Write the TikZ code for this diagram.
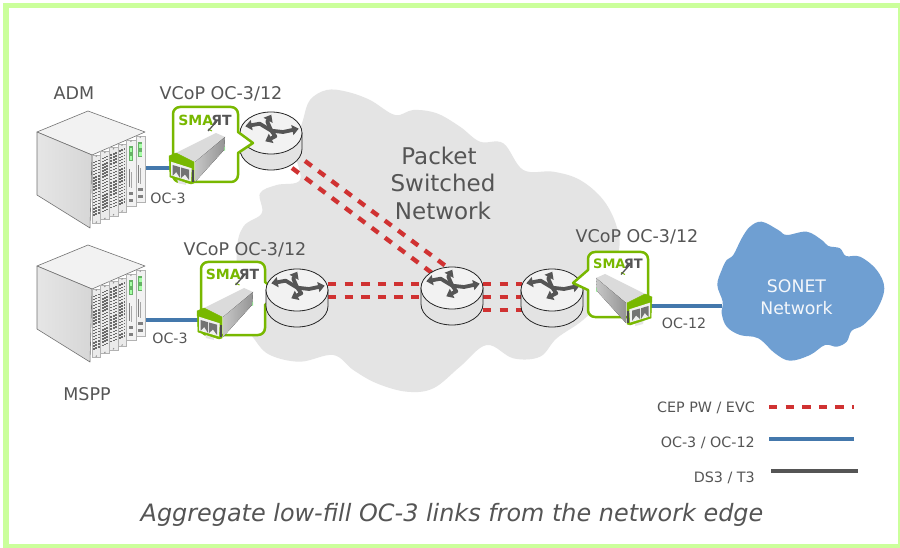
\documentclass[tikz,border=0pt]{standalone}
\usepackage{fontspec}
\setmainfont{DejaVu Sans}
\usetikzlibrary{arrows.meta,calc}
\definecolor{framegreen}{HTML}{CBFF9B}
\definecolor{cloudgray}{HTML}{E4E4E4}
\definecolor{sonetblue}{HTML}{6F9FD2}
\definecolor{cepred}{HTML}{D03232}
\definecolor{ocblue}{HTML}{4478AC}
\definecolor{dsgray}{HTML}{555555}
\definecolor{inkgray}{HTML}{555555}
\definecolor{smartgreen}{HTML}{78B800}
\tikzset{
  lbl/.style={anchor=base,text=inkgray,inner sep=0pt,font=\fontsize{17.5}{19}\selectfont},
  smalllbl/.style={anchor=base,text=inkgray,inner sep=0pt,font=\fontsize{14.2}{16}\selectfont},
  leglbl/.style={anchor=base east,text=inkgray,inner sep=0pt,font=\fontsize{14.3}{16}\selectfont},
  biglbl/.style={anchor=base,text=inkgray,inner sep=0pt,font=\fontsize{23}{26}\selectfont},
  sonetlbl/.style={anchor=base,text=white!92!sonetblue,inner sep=0pt,font=\fontsize{17.3}{20}\selectfont},
  cep/.style={draw=cepred,line width=4.4pt,dash pattern=on 8.4pt off 8.2pt},
  ocline/.style={draw=ocblue,line width=4pt},
  dsline/.style={draw=dsgray,line width=4pt},
  smartbox/.style={draw=smartgreen,line width=2.5pt,fill=white,line join=round},
  routerarm/.style={draw=inkgray,line width=3.8pt,line join=round,-{Triangle[length=6.5pt,width=10pt]}},
  router/.pic={
    \path[draw=black!85,line width=.8pt,fill=black!11] (-31,0) -- (-31,16) .. controls (-31,27.6) and (-17,37) .. (0,37) .. controls (17,37) and (31,27.6) .. (31,16) -- (31,0) -- cycle;
    \path[draw=black!85,line width=.8pt,fill=black!5] (0,0) ellipse [x radius=31,y radius=21];
    \begin{scope}[shift={(.3,-2.3)}]
      \draw[routerarm] (0,0) -- (-11.6,-7) -- (-26,-4.4);
      \draw[routerarm] (0,0) -- (11.7,1.3) -- (27.4,-2);
      \draw[routerarm] (0,0) -- (4,5.6) -- (-6,10.6);
      \draw[routerarm] (0,0) -- (-4,-9) -- (0,-16);
    \end{scope}
  },
  chassis/.pic={
    \path[draw=black!55,line width=.6pt,fill=black!5,line join=round] (0,0) -- (57,21) -- (4,44) -- (-51,21) -- cycle;
    \path[draw=black!55,line width=.6pt,left color=black!10,right color=black!16,line join=round] (-51,21) -- (4,44) -- (2,117) -- (-51,84) -- cycle;
    \begin{scope}[shift={(4,44)},x={(1pt,.43pt)},y={(0pt,-1pt)}]
      \foreach \c in {0,1,2,3} {
        \begin{scope}[shift={({\c*8.6},0)}]
          \path[fill=black!8,draw=black!30,line width=.4pt] (0,0) rectangle (8.6,72);
          \fill[black!45] (4.3,3) circle (.8);
          \foreach \row in {0,...,17} \foreach \col in {0,1,2}
            \fill[black!58] ({1.1+\col*2.3},{7+\row*3.1}) rectangle ++(1.9,2.3);
          \fill[black!45] (4.3,69) circle (.8);
        \end{scope}
      }
      \foreach \c in {0,1} {
        \begin{scope}[shift={({34.4+\c*9.3},0)}]
          \path[fill=black!5,draw=black!30,line width=.4pt] (0,0) rectangle (9.3,70);
          \fill[black!45] (4.6,3) circle (.8);
          \fill[green!50!black!60] (2.6,7) rectangle (6.6,24);
          \fill[green!35!white] (3.4,9) rectangle (5.8,14);
          \fill[green!35!white] (3.4,17) rectangle (5.8,22);
          \fill[black!50] (2.6,30) rectangle (3.5,48);
          \fill[black!35] (4.7,34) rectangle (5.4,50);
          \fill[black!50] (2.6,53) rectangle (6.8,58);
          \fill[black!50] (2.6,60) rectangle (6.8,65);
        \end{scope}
      }
    \end{scope}
  },
  sfp/.pic={
    \fill[green!35!white] (50,-12) -- (56,-9) -- (56,-5) -- (50,-8) -- cycle;
    \fill[black!14] (7,-3) -- (47,-23) -- (56,-19) -- (26,6) -- cycle;
    \fill[left color=black!22,right color=black!42] (26,6) -- (56,-19) -- (55,-6) -- (26,26) -- cycle;
    \fill[black!10] (8,22) -- (16,24) -- (17,29) -- (9,27) -- cycle;
    \path[fill=smartgreen,draw=smartgreen,line width=.5pt,line join=round] (0,0) -- (7,-3) -- (25,6) -- (25,27) -- (22,28) -- (1,21) -- cycle;
    \fill[black!6] (2,5.7) -- (22.7,12.3) -- (22,25.5) -- (2,19.5) -- cycle;
    \fill[black!55] (3.5,9) -- (11,11.2) -- (11,22) -- (7.2,16) -- (3.5,20) -- cycle;
    \fill[black!55] (12,11.5) -- (20,13.7) -- (20,24) -- (16,18.5) -- (12,22) -- cycle;
    \fill[black!70] (23,14) rectangle (24.8,26);
  },
}
\newcommand{\smartlogo}[1]{%
  {\fontsize{#1}{#1}\selectfont\bfseries{\color{smartgreen}SMA}\kern-.12em{\color{inkgray}ЯT}}}
\begin{document}
\begin{tikzpicture}[x=1pt,y=-1pt]
\useasboundingbox (0,0) rectangle (900,548);
\fill[white] (0,0) rectangle (900,548);
\draw[framegreen,line width=5.5pt] (6,5.7) rectangle (900.5,546.3);

% packet cloud
\fill[cloudgray] plot[smooth cycle,tension=.6] coordinates {(326.7,90) (346.7,91.7) (370,100) (395,115) (413.3,110) (436.7,113.3) (460,126.7) (480,141.7) (503.3,143.3) (523.3,170) (553.3,171.7) (580,180) (603.3,200) (616.7,226.7) (618.3,253) (600,300) (583,320) (556.7,338.3) (540,356.7) (513.3,358.3) (486.7,345) (460,366.7) (433.3,388.3) (406.7,391.7) (376.7,383.3) (353.3,370) (333.3,355) (300,361.7) (270,355) (255,340) (240,313) (236.7,253.3) (243.3,226.7) (261.7,213.3) (260,193.3) (276.7,185) (300,180) (295,150) (303,120) (310,100)};
% sonet cloud
\fill[sonetblue] plot[smooth cycle,tension=.6] coordinates {(761.7,221.7) (778.3,230) (786.7,235) (806.7,231.7) (821.7,240) (828.3,246) (840,248.3) (846,256) (860,256.7) (876.7,270) (884.3,288.3) (876.7,310) (863.3,325) (851.7,330.7) (846.7,341.7) (836.7,346.7) (825,345) (810,355) (790,360.7) (775,353.3) (758.3,338.3) (740,335) (726.7,326.7) (721.7,313.3) (722.7,301.7) (717.3,285) (721.7,270) (726.7,260) (733.3,255) (741.7,238.3) (750,226.7)};

\node[biglbl] (pk1) at (439,165) {Packet};
\node[biglbl] (pk2) at (443,192) {Switched};
\node[biglbl] (pk3) at (443,220) {Network};
\node[sonetlbl] (so1) at (796.5,293) {SONET};
\node[sonetlbl] (so2) at (796.5,314) {Network};

% anchors
\coordinate (r1) at (271,133);
\coordinate (r2) at (297,290);
\coordinate (r3) at (452,288);
\coordinate (r4) at (552,290);
\coordinate (c1) at (88,111);
\coordinate (c2) at (88,245);
\coordinate (s1) at (169,156);
\coordinate (s2) at (197,311);
\coordinate (s3) at (652,297);
\coordinate (son) at (722,306);

% links
\draw[cep] ($(r1)+(34,28)$) -- ($(r3)+(-5,-21)$);
\draw[cep] ($(r1)+(21,35)$) -- ($(r3)+(-20,-15)$);
\draw[cep] ($(r2)+(31,-6)$) -- ($(r3)+(-30,-4)$);
\draw[cep] ($(r2)+(31,7)$) -- ($(r3)+(-30,9)$);
\draw[cep] ($(r3)+(31,-4)$) -- ($(r4)+(-30,-6)$);
\draw[cep] ($(r3)+(31,9)$) -- ($(r4)+(-30,7)$);
\draw[cep] ($(r3)+(31,22)$) -- ($(r4)+(-30,20)$);
\draw[ocline] ($(c1)+(57,57)$) -- ($(s1)+(2,12)$);
\draw[ocline] ($(c2)+(57,75)$) -- ($(s2)+(2,9)$);
\draw[ocline] ($(s3)+(-2,9)$) -- (son);

% box 2 lies under its router
\draw[smartbox,rounded corners=7] (201,300) -- (201,262) -- (265,262) [sharp corners] -- (265,282) -- (279,293) -- (265,305) [rounded corners=7] -- (265,335) -- (201,335) -- cycle;
\pic at (r1) {router};
\pic at (r2) {router};
\pic at (r3) {router};
\pic at (r4) {router};

\draw[smartbox,rounded corners=7] (173,144) -- (173,107) -- (238,107) [sharp corners] -- (238,132) -- (253,143) -- (238,153) [rounded corners=7] -- (238,182) -- (173,182) -- cycle;
\draw[smartbox,rounded corners=7] (648,280) -- (648,252) -- (588,252) [sharp corners] -- (588,270) -- (573,283) -- (588,290) [rounded corners=7] -- (588,317) -- (648,317) -- cycle;

\node[anchor=center,inner sep=0pt] (t1) at (205,120) {\smartlogo{14}};
\node[anchor=center,inner sep=0pt] (t2) at (232.5,274) {\smartlogo{14}};
\node[anchor=center,inner sep=0pt] (t3) at (618,263.5) {\smartlogo{13}};
\foreach \t in {t1,t2,t3} {
  \draw[smartgreen,line width=1pt] ($(\t)+(3,9)$) -- ($(\t)+(7,11)$);
  \draw[inkgray,line width=1.3pt] ($(\t)+(3,11)$) -- ($(\t)+(12,1)$);
}
\pic at (s1) {sfp};
\pic at (s2) {sfp};
\pic[xscale=-1] at (s3) {sfp};

\pic at (c1) {chassis};
\pic at (c2) {chassis};

% labels
\node[lbl] (adm) at (74,100) {ADM};
\node[lbl] (mspp) at (87,400) {MSPP};
\node[lbl] (v1) at (221,100) {VCoP OC-3/12};
\node[lbl] (v2) at (245,256) {VCoP OC-3/12};
\node[lbl] (v3) at (637,243) {VCoP OC-3/12};
\node[smalllbl] (o1) at (168,204) {OC-3};
\node[smalllbl] (o2) at (170,343) {OC-3};
\node[smalllbl] (o3) at (684,328) {OC-12};

% legend
\node[leglbl] (l1) at (755,412.7) {CEP PW / EVC};
\node[leglbl] (l2) at (755,447) {OC-3 / OC-12};
\node[leglbl] (l3) at (755,482.7) {DS3 / T3};
\coordinate (l1a) at (769,407); \coordinate (l1b) at (854,407);
\coordinate (l2a) at (769,439); \coordinate (l2b) at (854,439);
\coordinate (l3a) at (771,471); \coordinate (l3b) at (858,471);
\draw[cep] (l1a) -- (l1b);
\draw[ocline] (l2a) -- (l2b);
\draw[dsline] (l3a) -- (l3b);

\node[anchor=base,text=inkgray,inner sep=0pt,font=\fontsize{23.9}{26}\selectfont\itshape] (title) at (452,521.5) {Aggregate low-fill OC-3 links from the network edge};
\end{tikzpicture}
\end{document}
